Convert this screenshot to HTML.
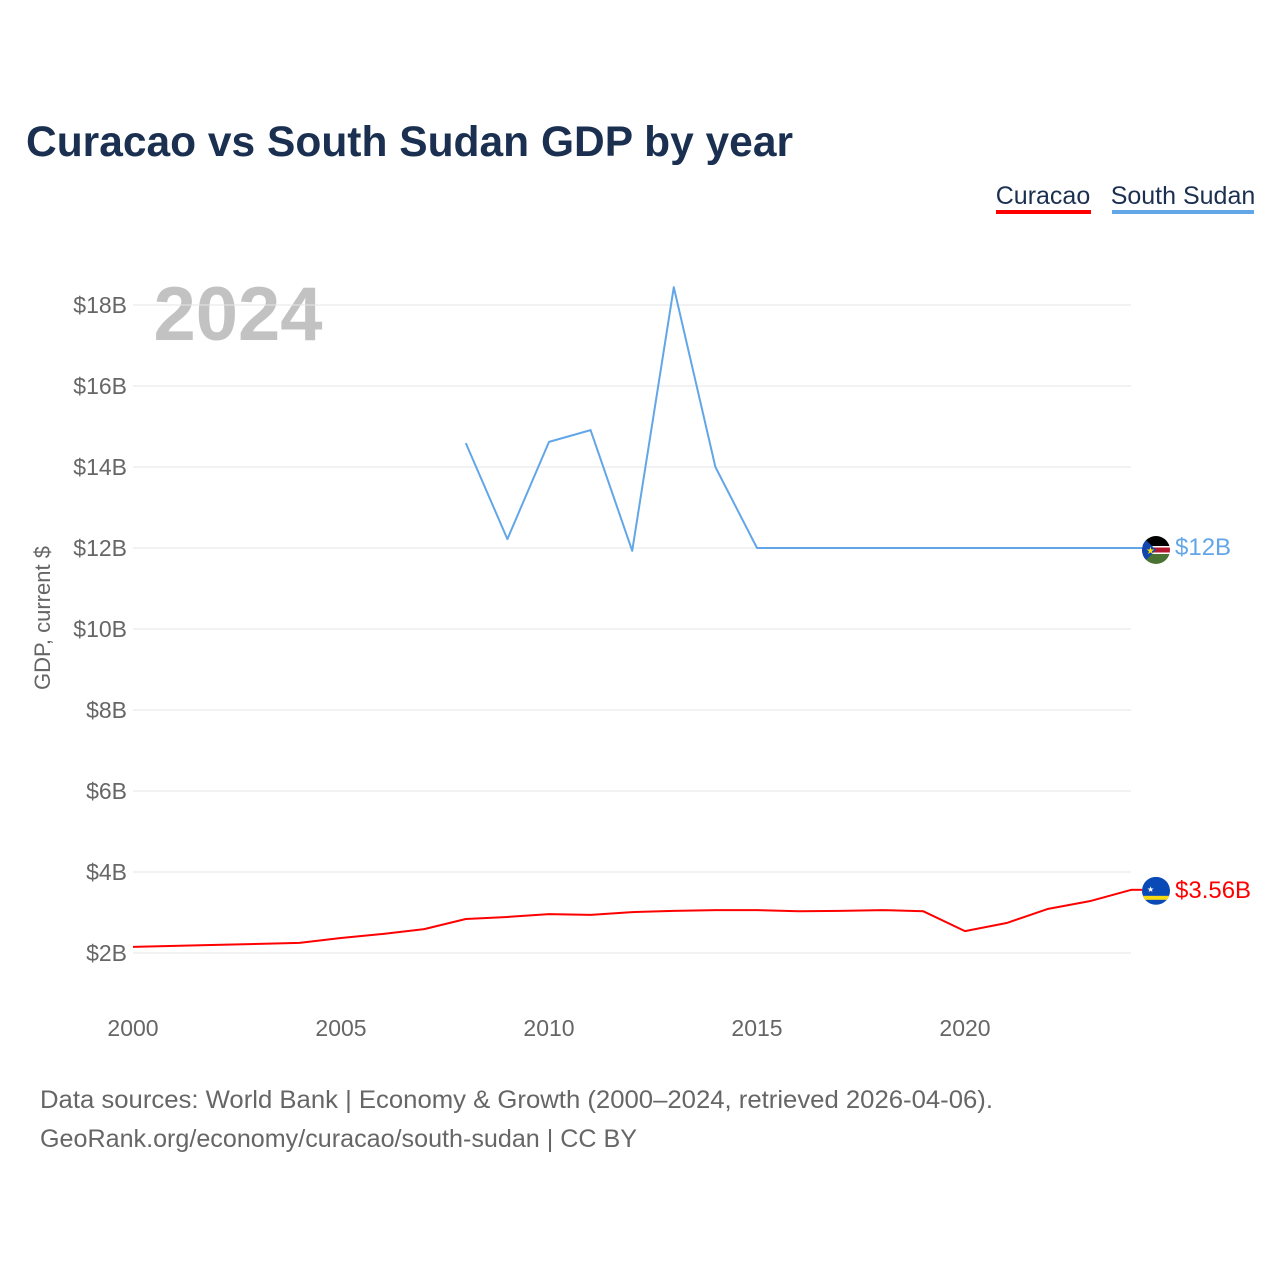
<!DOCTYPE html>
<html><head><meta charset="utf-8"><style>
html,body{margin:0;padding:0;background:#fff;width:1280px;height:1280px;overflow:hidden}
svg text{font-family:"Liberation Sans",sans-serif}
</style></head><body>
<svg id="c" width="1280" height="1280" xmlns="http://www.w3.org/2000/svg">
<text x="26" y="156" font-size="43" font-weight="bold" fill="#1b3050" textLength="767" lengthAdjust="spacingAndGlyphs">Curacao vs South Sudan GDP by year</text>
<g>
<text x="1043" y="204" font-size="25" fill="#1b3050" text-anchor="middle">Curacao</text>
<rect x="996" y="210" width="95" height="4" fill="#ff0000"/>
<text x="1183" y="204" font-size="25" fill="#1b3050" text-anchor="middle">South Sudan</text>
<rect x="1112" y="210" width="142" height="4" fill="#62a6e8"/>
</g>
<text x="238" y="340" font-size="76" font-weight="bold" fill="#c2c2c2" text-anchor="middle">2024</text>
<text transform="translate(50,618) rotate(-90)" font-size="22" fill="#666" text-anchor="middle">GDP, current $</text>
<g id="grid"></g><g id="series"></g>
<text x="40" y="1108" font-size="25" fill="#666" textLength="953" lengthAdjust="spacingAndGlyphs">Data sources: World Bank | Economy &amp; Growth (2000–2024, retrieved 2026-04-06).</text>
<text x="40" y="1147" font-size="25" fill="#666" textLength="597" lengthAdjust="spacingAndGlyphs">GeoRank.org/economy/curacao/south-sudan | CC BY</text>
</svg>
<script>
const yTicks=[2,4,6,8,10,12,14,16,18];
const xTicks=[2000,2005,2010,2015,2020];
const curYears=[2000,2002,2004,2005,2006,2007,2008,2009,2010,2011,2012,2013,2014,2015,2016,2017,2018,2019,2020,2021,2022,2023,2024];
const curVals=[2.15,2.2,2.25,2.37,2.47,2.59,2.84,2.89,2.96,2.94,3.01,3.04,3.06,3.06,3.03,3.04,3.06,3.03,2.54,2.74,3.09,3.28,3.56];
const ssYears=[2008,2009,2010,2011,2012,2013,2014,2015,2016,2017,2018,2019,2020,2021,2022,2023,2024];
const ssVals=[14.59,12.22,14.62,14.91,11.93,18.44,14.0,12.0,12.0,12.0,12.0,12.0,12.0,12.0,12.0,12.0,12.0];
const NS="http://www.w3.org/2000/svg";
const x=yr=>133+(yr-2000)*41.6;
const y=v=>953-(v-2)*40.5;
function mk(tag,attrs,parent){const e=document.createElementNS(NS,tag);for(const k in attrs)e.setAttribute(k,attrs[k]);parent.appendChild(e);return e;}
const grid=document.getElementById('grid');
yTicks.forEach(t=>{
 const l=mk('line',{x1:133,x2:1131,y1:y(t),y2:y(t),stroke:'#e6e6e6','stroke-width':1},grid);
 
 
 const tx=mk('text',{x:127,y:y(t)+8,'font-size':23,fill:'#666','text-anchor':'end'},grid);
 tx.textContent='$'+t+'B';
 
 
});
xTicks.forEach(t=>{
 const tx=mk('text',{x:x(t),y:1036,'font-size':23,fill:'#666','text-anchor':'middle'},grid);
 tx.textContent=t;
 
 
});
const s=document.getElementById('series');
function line(years,vals,color,name){
 const p=mk('polyline',{points:years.map((yr,i)=>x(yr)+','+y(vals[i])).join(' '),fill:'none',stroke:color,'stroke-width':2,'stroke-linejoin':'round'},s);
 
 
}
line(ssYears,ssVals,'#62a6e8','south-sudan');
line(curYears,curVals,'#ff0000','curacao');
const ssEnd=ssVals[ssVals.length-1], cuEnd=curVals[curVals.length-1];
mk('line',{x1:1131,x2:1142,y1:y(ssEnd),y2:y(ssEnd),stroke:'#62a6e8','stroke-width':2},s);
mk('line',{x1:1131,x2:1142,y1:y(cuEnd),y2:y(cuEnd),stroke:'#ff0000','stroke-width':2},s);
const fs=mk('g',{},s);


const cy1=y(ssEnd)+2;
const cp=mk('clipPath',{id:'cp1'},fs);mk('circle',{cx:1156,cy:cy1,r:14},cp);
const g1=mk('g',{'clip-path':'url(#cp1)'},fs);
mk('rect',{x:1142,y:cy1-14,width:28,height:10,fill:'#000'},g1);
mk('rect',{x:1142,y:cy1-4,width:28,height:8,fill:'#fff'},g1);
mk('rect',{x:1142,y:cy1-2.5,width:28,height:5,fill:'#b4172e'},g1);
mk('rect',{x:1142,y:cy1+4,width:28,height:10,fill:'#4a7232'},g1);
mk('polygon',{points:`1142,${cy1-14} 1156,${cy1} 1142,${cy1+14}`,fill:'#0f47af'},g1);
mk('text',{x:1146,y:cy1+4,'font-size':10,fill:'#fcdd09'},g1).textContent='★';
const fc=mk('g',{},s);


const cy2=y(cuEnd)+1;
const cp2=mk('clipPath',{id:'cp2'},fc);mk('circle',{cx:1156,cy:cy2,r:14},cp2);
const g2=mk('g',{'clip-path':'url(#cp2)'},fc);
mk('rect',{x:1142,y:cy2-14,width:28,height:28,fill:'#0a4ab6'},g2);
mk('rect',{x:1142,y:cy2+5,width:28,height:4,fill:'#f9d90f'},g2);
mk('text',{x:1147,y:cy2+1,'font-size':8,fill:'#fff'},g2).textContent='★';
const l1=mk('text',{x:1175,y:y(ssEnd)+7,'font-size':24,fill:'#62a6e8'},s);
l1.textContent='$'+ssEnd+'B';


const l2=mk('text',{x:1175,y:y(cuEnd)+8,'font-size':24,fill:'#ff0000'},s);
l2.textContent='$'+cuEnd+'B';


</script>
</body></html>
